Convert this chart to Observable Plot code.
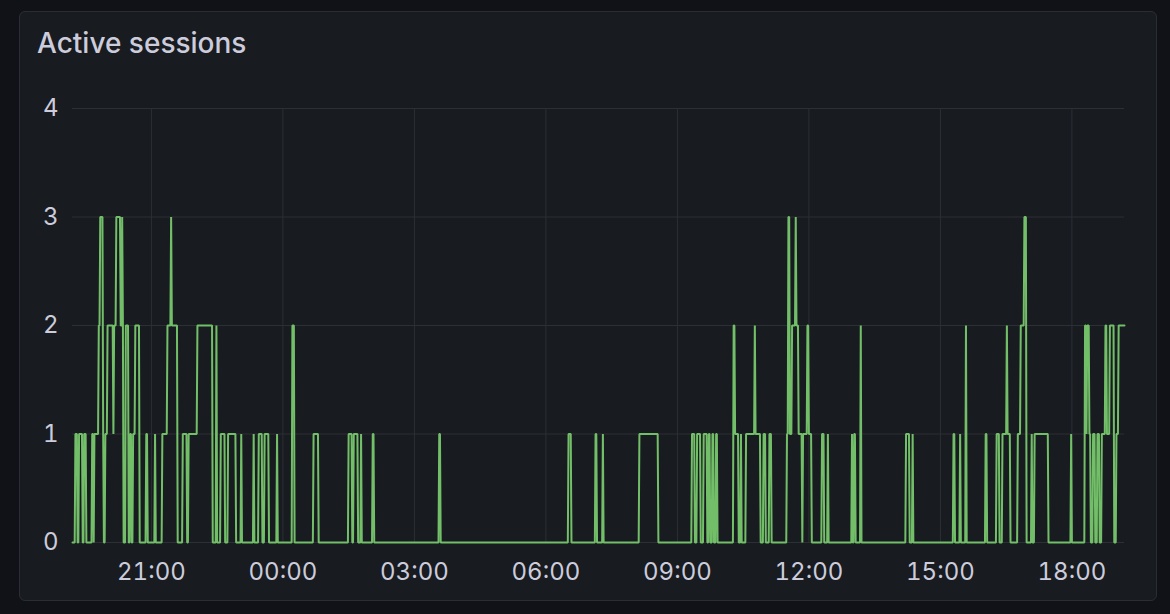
<!DOCTYPE html>
<html>
<head>
<meta charset="utf-8">
<script src="https://cdn.jsdelivr.net/npm/d3@7"></script>
<script src="https://cdn.jsdelivr.net/npm/@observablehq/plot@0.6"></script>
<style>
  body { margin: 0; background: #111217; font-family: Inter, "Noto Sans", sans-serif; }
  #panel {
    position: absolute; left: 19px; top: 11px; width: 1136px; height: 588px;
    background: #181b1f; border: 1px solid #2a2d33; border-radius: 6px;
  }
  #title {
    position: absolute; left: 37px; top: 29px; line-height: 28px;
    font-size: 28px; font-weight: 500; color: #ccccdc;
  }
  #chart { position: absolute; left: 0; top: 0; }
</style>
</head>
<body>
<div id="panel"></div>
<div id="title">Active sessions</div>
<div id="chart"></div>
<script>
// minutes after 19:12 where the session count changes, and the new count
const changeMinutes = [
  0, 4, 7, 9, 14, 16, 19, 27, 29, 30, 36, 38, 42, 43, 45, 48, 56, 57, 60, 66,
  68, 69, 70, 73, 77, 79, 81, 83, 86, 92, 101, 103, 113, 114, 123, 130, 135, 136, 144, 151,
  157, 159, 171, 192, 197, 198, 203, 209, 213, 224, 231, 232, 248, 249, 255, 260, 263, 269, 280, 281,
  301, 304, 330, 337, 378, 383, 385, 391, 395, 396, 411, 413, 502, 504, 679, 683, 716, 718, 726, 727,
  776, 802, 848, 852, 855, 860, 864, 869, 871, 873, 876, 878, 881, 883, 905, 907, 912, 915, 916, 922,
  934, 935, 942, 946, 949, 954, 957, 978, 980, 982, 985, 990, 991, 994, 999, 1000, 1006, 1008, 1012, 1026,
  1029, 1034, 1035, 1067, 1068, 1070, 1072, 1079, 1080, 1141, 1146, 1150, 1151, 1206, 1208, 1215, 1216, 1223, 1224, 1250,
  1252, 1265, 1269, 1273, 1279, 1280, 1284, 1294, 1298, 1303, 1306, 1313, 1314, 1317, 1336, 1367, 1368, 1386, 1388, 1389,
  1392, 1394, 1397, 1400, 1403, 1406, 1409, 1414, 1416, 1420, 1426, 1429, 1432
]
const changeSessions = [
  0, 1, 0, 1, 0, 1, 0, 1, 0, 1, 2, 3, 1, 0, 1, 2, 1, 2, 3, 2,
  3, 2, 0, 2, 0, 1, 0, 1, 2, 0, 1, 0, 1, 0, 1, 2, 3, 2, 0, 1,
  0, 1, 2, 0, 2, 0, 1, 0, 1, 0, 1, 0, 1, 0, 1, 0, 1, 0, 1, 0,
  2, 0, 1, 0, 1, 0, 1, 0, 1, 0, 1, 0, 1, 0, 1, 0, 1, 0, 1, 0,
  1, 0, 1, 0, 1, 0, 1, 0, 1, 0, 1, 0, 1, 0, 2, 1, 0, 1, 0, 1,
  2, 1, 0, 1, 0, 1, 0, 1, 3, 1, 2, 3, 2, 1, 0, 1, 2, 1, 0, 1,
  0, 1, 0, 1, 0, 1, 0, 2, 0, 1, 0, 1, 0, 1, 0, 1, 0, 2, 0, 1,
  0, 1, 0, 1, 2, 1, 0, 1, 2, 3, 0, 1, 0, 1, 0, 1, 0, 2, 1, 2,
  1, 0, 1, 0, 1, 0, 1, 2, 1, 2, 0, 1, 2
]
const totalMinutes = 1440
const yTicks = [0, 1, 2, 3, 4]
const xTickLabels = ['21:00', '00:00', '03:00', '06:00', '09:00', '12:00', '15:00', '18:00']

const start = Date.UTC(2024, 0, 1, 19, 12)
const minute = 60000

// each count holds until the next change, then steps over one minute
const points = []
changeMinutes.forEach((m, i) => {
  const next = i + 1 < changeMinutes.length ? changeMinutes[i + 1] : totalMinutes + 1
  points.push({ time: new Date(start + m * minute), sessions: changeSessions[i] })
  if (next - 1 > m) {
    points.push({ time: new Date(start + (next - 1) * minute), sessions: changeSessions[i] })
  }
})

const xTicks = xTickLabels.map(s => {
  const [h, mm] = s.split(':').map(Number)
  const day = h >= 19 ? 1 : 2
  return new Date(Date.UTC(2024, 0, day, h, mm))
})

const gridColor = '#2c2f35'

const chart = Plot.plot({
  width: 1170,
  height: 614,
  marginLeft: 72,
  marginRight: 46,
  marginTop: 108,
  marginBottom: 72,
  style: {
    background: 'transparent',
    color: '#ccccdc',
    fontFamily: 'Inter, "Noto Sans", sans-serif',
    fontSize: '24px',
    overflow: 'visible'
  },
  x: {
    type: 'utc',
    domain: [new Date(start), new Date(start + totalMinutes * minute)],
    ticks: xTicks,
    tickFormat: d3.utcFormat('%H:%M'),
    tickSize: 0,
    tickPadding: 20,
    label: null
  },
  y: {
    domain: [0, 4],
    ticks: yTicks,
    tickFormat: d => String(d),
    tickSize: 0,
    tickPadding: 14,
    label: null
  },
  marks: [
    Plot.ruleY(yTicks, { stroke: gridColor, strokeWidth: 1 }),
    Plot.ruleX(xTicks, { stroke: gridColor, strokeWidth: 1 }),
    Plot.line(points, {
      x: 'time',
      y: 'sessions',
      stroke: '#73bf69',
      strokeWidth: 2,
      strokeLinejoin: 'miter'
    })
  ]
})

d3.select('#chart').append(() => chart)
</script>
</body>
</html>
